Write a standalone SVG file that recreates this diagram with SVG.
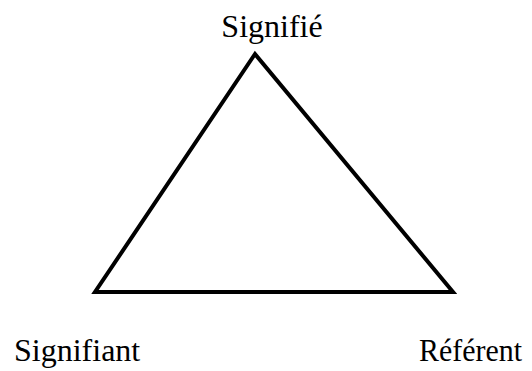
<svg xmlns="http://www.w3.org/2000/svg" width="532" height="371" viewBox="0 0 532 371">
<style>
text{font-family:'Liberation Serif','DejaVu Serif',serif;font-size:32px;fill:#000}
.edge{stroke:#000;stroke-width:4;fill:none;stroke-linejoin:miter}
</style>
<rect width="532" height="371" fill="#fff"/>
<g id="connectors">
<path class="edge" d="M255,54 L453,292 L95,292 Z"/>
</g>
<g id="signifie"><text x="272" y="37" text-anchor="middle">Signifié</text></g>
<g id="signifiant"><text x="14" y="361">Signifiant</text></g>
<g id="referent"><text x="419" y="361" textLength="103" lengthAdjust="spacingAndGlyphs">Référent</text></g>
</svg>
